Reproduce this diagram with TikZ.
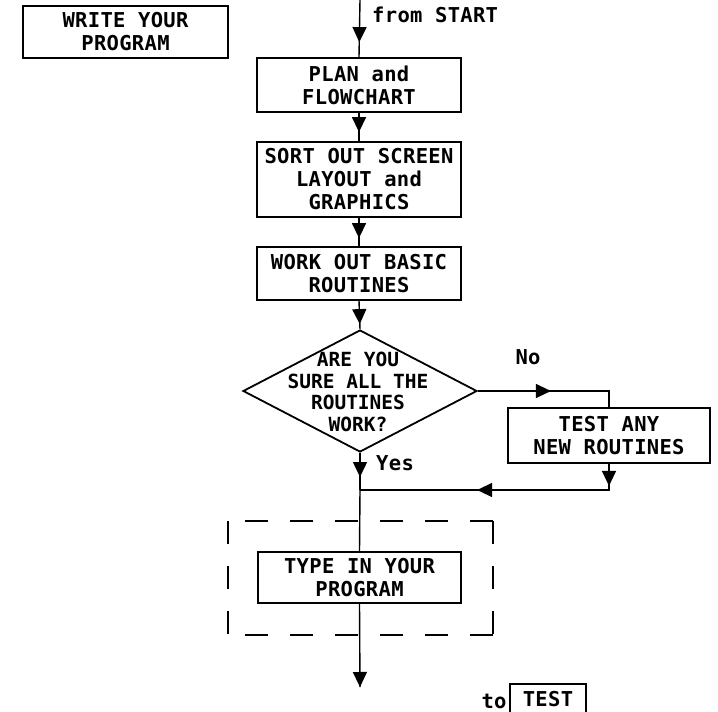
\documentclass[tikz,border=0pt]{standalone}
\usepackage{fontspec}
\usetikzlibrary{shapes.geometric,arrows.meta,decorations.markings}
\newfontfamily\boxfont[LetterSpace=1.5]{DejaVu Sans Mono}
\newfontfamily\dfont{DejaVu Sans Mono}
\tikzset{
  box/.style={draw, line width=1.8pt, align=center, inner sep=0pt,
    minimum width=204pt, font={\boxfont\bfseries\fontsize{20.5}{23}\selectfont}},
  lbl/.style={inner sep=0pt, font={\boxfont\bfseries\fontsize{20.5}{23}\selectfont}},
  flow/.style={line width=1.4pt},
  tipshape/.style={},
  tipat/.style={postaction={decorate}, decoration={markings,
    mark=at position #1 with {\arrow{Triangle[length=15pt,width=14pt]}}}},
  tipsat/.style 2 args={postaction={decorate}, decoration={markings,
    mark=at position #1 with {\arrow{Triangle[length=15pt,width=14pt]}},
    mark=at position #2 with {\arrow{Triangle[length=15pt,width=14pt]}}}},
  dashside/.style={line width=1.6pt, dash pattern=on 23pt off 22pt}
}
\begin{document}
\begin{tikzpicture}[x=1pt,y=-1pt]
\clip (0,0) rectangle (718,712);
\fill[white] (0,0) rectangle (718,712);

% boxes
\node[box, minimum width=205pt, minimum height=52pt] (write) at (125.5,32) {WRITE YOUR\\PROGRAM};
\node[box, minimum height=54pt] (plan) at (359,85) {PLAN and\\FLOWCHART};
\node[box, minimum height=75pt] (sort) at (359,179.5) {SORT OUT SCREEN\\LAYOUT and\\GRAPHICS};
\node[box, minimum height=53pt] (work) at (359,273.5) {WORK OUT BASIC\\ROUTINES};
\node[draw, line width=1.8pt, diamond, inner sep=0pt, minimum width=234pt, minimum height=122pt] (dia) at (360,391) {};
\node[inner sep=0pt, align=center, font={\dfont\bfseries\fontsize{19.5}{21.7}\selectfont}] (diatext) at (358,392) {ARE YOU\\SURE ALL THE\\ROUTINES\\WORK?};
\node[box, minimum width=202pt, minimum height=55pt] (test) at (609,435.5) {TEST ANY\\NEW ROUTINES};
\node[box, minimum width=203pt, minimum height=51pt] (type) at (359.5,577.5) {TYPE IN YOUR\\PROGRAM};
\node[box, minimum width=76pt, minimum height=60pt, anchor=north] (testend) at (548,683) {};
\node[lbl, anchor=base] (testtxt) at (548,706) {TEST};

% labels
\node[lbl, anchor=base west] (from) at (372,22) {from START};
\node[lbl, anchor=base] (no) at (528,364) {No};
\node[lbl, anchor=base west] (yes) at (376,470) {Yes};
\node[lbl, anchor=base] (to) at (494,708) {to};

% connector end points
\coordinate (top) at (360,0);
\coordinate (join) at (360,490);
\coordinate (bottom) at (360,687);
\coordinate (nocorner) at (609,391);
\coordinate (backcorner) at (609,490);

% main flow
\draw[flow, tipat=-15pt] (top) -- (plan.north);
\draw[flow, tipat=-9pt] (plan.south) -- (sort.north);
\draw[flow, tipat=-8pt] (sort.south) -- (work.north);
\draw[flow, tipat=-5pt] (work.south) -- (dia.north);
\draw[flow, tipat=-13pt] (dia.south) -- (join);
\draw[flow] (join) -- (type.north);
\draw[flow, tipat=1] (type.south) -- (bottom);

% "No" branch and return
\draw[flow, tipat=73pt] (dia.east) -- (nocorner) -- (test.north);
\draw[flow, tipsat={22pt}{158pt}] (test.south) -- (backcorner) -- (join);

% dashed frame
\draw[dashside] (493,521) -- (228,521);
\draw[dashside] (493,635) -- (228,635);
\draw[dashside] (493,521) -- (493,635);
\draw[dashside] (228,521) -- (228,635);
\end{tikzpicture}
\end{document}
